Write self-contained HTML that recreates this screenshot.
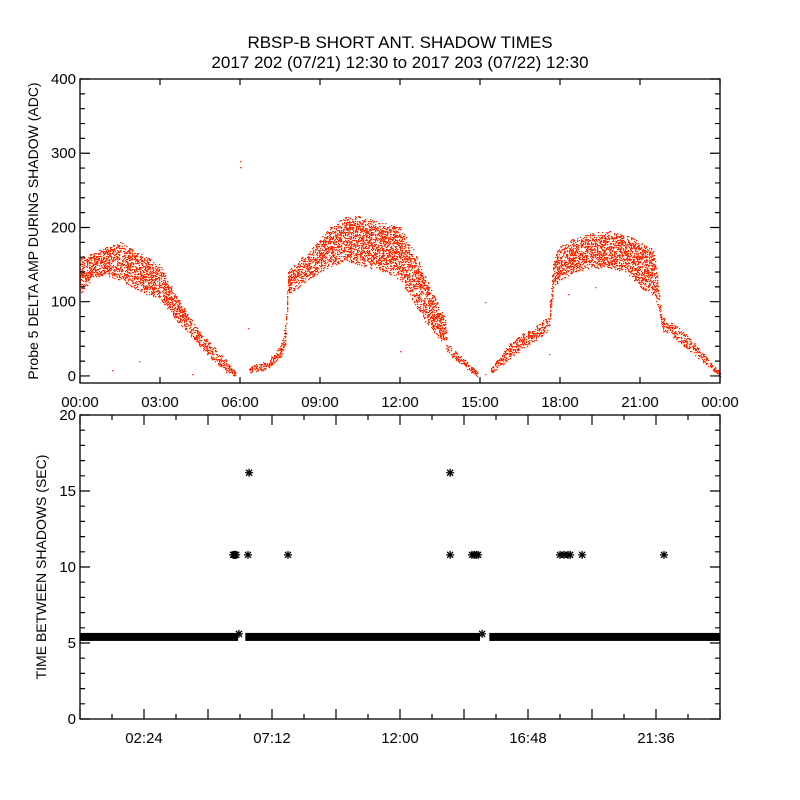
<!DOCTYPE html>
<html><head><meta charset="utf-8"><style>
body{margin:0;background:#fff;}
svg{display:block;font-family:"Liberation Sans",sans-serif;}
</style></head><body>
<svg id="chart" width="800" height="800" viewBox="0 0 800 800">
<rect x="0" y="0" width="800" height="800" fill="#fff"/>
<text x="400" y="48" font-size="17" text-anchor="middle">RBSP-B SHORT ANT. SHADOW TIMES</text>
<text x="400" y="68" font-size="17" text-anchor="middle">2017 202 (07/21) 12:30 to 2017 203 (07/22) 12:30</text>
<g id="topPanel"></g>
<g id="botPanel"></g>
</svg>
<script>
// ---- Top panel data (envelope of scatter: hour, low, high) ----
const topHours = [0,0.5,1,1.5,2,2.5,3,3.5,4,4.5,5,5.5,5.83, 6.33,6.5,7,7.5,7.7,7.8,8,8.5,9,9.5,10,10.5,11,11.5,12,12.5,13,13.5,13.7,13.75,14,14.5,14.9, 15.4,15.5,16,16.5,17,17.5,17.6,17.75,18,18.5,19,19.5,20,20.5,21,21.5,21.7,21.8,22,22.5,23,23.5,24];
const topLow  = [110,135,135,130,120,110,105,80,60,40,20,5,0, 5,5,10,25,40,110,115,130,140,150,155,150,145,140,130,100,70,50,45,30,25,10,0, 5,5,20,35,45,60,70,120,130,140,145,145,145,140,120,110,90,60,60,45,30,15,0];
const topHigh = [160,165,175,180,170,160,150,115,85,60,40,20,5, 10,15,20,40,75,140,150,165,185,205,215,215,210,205,200,170,130,90,80,45,35,20,5, 10,15,40,55,65,80,90,160,175,185,190,195,195,190,180,170,120,80,75,65,45,25,5];
const topOutH = [6,6,1.2,2.2,4.2,6.3,12.0,15.2,15.2,17.6,18.3,19.3];
const topOutV = [290,282,8,20,2,65,33,100,2,30,110,120];
const topYTicks = [0,100,200,300,400];
const topXLabels = ["00:00","03:00","06:00","09:00","12:00","15:00","18:00","21:00","00:00"];
// ---- Bottom panel data ----
const bandSegments = [[0,5.93],[6.2,15.0],[15.35,24]];
const bandValue = 5.4;
const starHours = [5.74,5.78,5.82,5.86,5.96,6.3,6.34,7.8,13.88,13.88,14.7,14.78,14.86,14.93,15.08,18.0,18.15,18.3,18.38,18.83,21.9];
const starValues = [10.8,10.8,10.8,10.8,5.6,10.8,16.2,10.8,10.8,16.2,10.8,10.8,10.8,10.8,5.6,10.8,10.8,10.8,10.8,10.8,10.8];
const botYTicks = [0,5,10,15,20];
const botXLabels = ["02:24","07:12","12:00","16:48","21:36"];

const NS="http://www.w3.org/2000/svg";
function mk(tag,attrs,parent){const e=document.createElementNS(NS,tag);for(const k in attrs)e.setAttribute(k,attrs[k]);parent.appendChild(e);return e;}
const X0=80,X1=720;
const xs=h=>X0+h/24*(X1-X0);
const TT=79,TB=383,tyMin=-9.5,tyMax=400;
const ty=v=>TB-(v-tyMin)/(tyMax-tyMin)*(TB-TT);
const BT=415,BB=719;
const by=v=>BB-v/20*(BB-BT);
const topG=document.getElementById('topPanel'), botG=document.getElementById('botPanel');
function hsh(a,b){let h=(a*374761393+b*668265263)|0;h=(h^(h>>>13))*1274126177|0;return ((h^(h>>>16))>>>0)%100;}

// scatter dots
let d="";
for(let px=X0;px<=X1;px++){
  const h=(px-X0)/(X1-X0)*24;
  let i=-1;
  for(let k=0;k<topHours.length-1;k++){if(h>=topHours[k]&&h<=topHours[k+1]){i=k;break;}}
  if(i<0)continue;
  if(h>topHours[i]&&(topHours[i]===5.83||topHours[i]===14.9)) continue;
  const t=(h-topHours[i])/(topHours[i+1]-topHours[i]);
  const lo=topLow[i]+(topLow[i+1]-topLow[i])*t, hi=topHigh[i]+(topHigh[i+1]-topHigh[i])*t;
  const y1=Math.round(ty(hi)), y2=Math.round(ty(lo));
  for(let y=y1;y<=y2;y++){
    const mid=(y-y1)/Math.max(1,y2-y1);
    const dens=(y2-y1<6)?70:((mid>0.1&&mid<0.9)?42:25);
    if(hsh(px,y)<dens) d+="M"+px+" "+y+"h1.3v1.3h-1.3z";
  }
}
for(let k=0;k<topOutH.length;k++){const px=Math.round(xs(topOutH[k])),y=Math.round(ty(topOutV[k]));d+="M"+px+" "+y+"h1.3v1.3h-1.3z";}
const sc=mk('path',{d:d,fill:'#ff2a00'},topG);



// top frame + ticks
const tf=mk('rect',{x:X0,y:TT,width:X1-X0,height:TB-TT,fill:'none',stroke:'#000','stroke-width':1.3},topG);


let tk="";
for(let v=0;v<=400;v+=20){const y=ty(v);const L=(v%100===0)?10:5;tk+=`M${X0} ${y}h${L}M${X1} ${y}h${-L}`;}
for(let h=0;h<=24;h+=3){const x=xs(h);tk+=`M${x} ${TB}v-6M${x} ${TT}v6`;}
const tt=mk('path',{d:tk,stroke:'#000','stroke-width':1.2,fill:'none'},topG);


topYTicks.forEach(v=>{const t=mk('text',{x:X0-4,y:ty(v)+5,'font-size':15,'text-anchor':'end'},topG);t.textContent=v;

});
topXLabels.forEach((s,i)=>{const t=mk('text',{x:xs(i*3),y:TB+24,'font-size':15,'text-anchor':'middle'},topG);t.textContent=s;

});
const yt1=mk('text',{x:0,y:0,'font-size':14,'text-anchor':'middle',transform:`translate(38,${(TT+TB)/2}) rotate(-90)`},topG);
yt1.textContent="Probe 5 DELTA AMP DURING SHADOW (ADC)";



// bottom band
bandSegments.forEach(s=>{const r=mk('rect',{x:xs(s[0]),y:by(bandValue)-4,width:xs(s[1])-xs(s[0]),height:8,fill:'#000'},botG);

});
starHours.forEach((h,i)=>{const x=xs(h),y=by(starValues[i]);
const p=mk('path',{d:`M${x-4} ${y}h8M${x} ${y-4}v8M${x-3} ${y-3}l6 6M${x-3} ${y+3}l6 -6`,stroke:'#000','stroke-width':1.3},botG);

});
const bf=mk('rect',{x:X0,y:BT,width:X1-X0,height:BB-BT,fill:'none',stroke:'#000','stroke-width':1.3},botG);


let bk="";
for(let v=0;v<=20;v++){const y=by(v);const L=(v%5===0)?10:5;bk+=`M${X0} ${y}h${L}M${X1} ${y}h${-L}`;}
for(let k=0;k<=20;k++){const x=xs(k*1.2);const L=(k%2===0)?10:5;bk+=`M${x} ${BB}v${-L}M${x} ${BT}v${L}`;}
const bt=mk('path',{d:bk,stroke:'#000','stroke-width':1.2,fill:'none'},botG);


botYTicks.forEach(v=>{const t=mk('text',{x:X0-4,y:by(v)+5,'font-size':15,'text-anchor':'end'},botG);t.textContent=v;

});
botXLabels.forEach((s,i)=>{const t=mk('text',{x:xs(2.4+i*4.8),y:BB+24,'font-size':15,'text-anchor':'middle'},botG);t.textContent=s;

});
const yt2=mk('text',{x:0,y:0,'font-size':14,'text-anchor':'middle',transform:`translate(46,${(BT+BB)/2}) rotate(-90)`},botG);
yt2.textContent="TIME BETWEEN SHADOWS (SEC)";


</script>
</body></html>
